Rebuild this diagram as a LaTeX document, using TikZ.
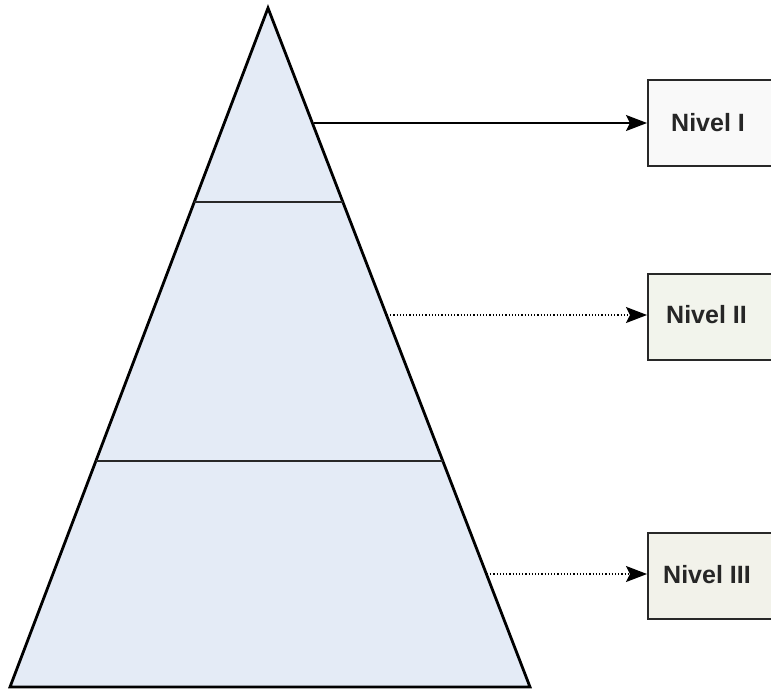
\documentclass[tikz,border=0pt]{standalone}
\usepackage{fontspec}
\setmainfont{Liberation Sans}
\usetikzlibrary{arrows.meta}
\definecolor{pyrfill}{RGB}{228,235,246}
\definecolor{boxone}{RGB}{249,249,249}
\definecolor{boxtwo}{RGB}{242,244,236}
\definecolor{boxthree}{RGB}{242,242,234}
\definecolor{edgegray}{RGB}{40,40,40}
\tikzset{
  levelbox/.style={draw=edgegray, line width=2.2pt, minimum height=86pt, minimum width=150pt, inner sep=0pt},
  leveltext/.style={font=\bfseries\fontsize{25}{29}\selectfont, text=black!85},
  pointer/.style={line width=1.2pt, -{Stealth[length=21pt,width=16pt,inset=4pt]}},
  pyredge/.style={line width=2.8pt, draw=black, line join=miter},
  divider/.style={line width=2.8pt, draw=edgegray}
}
\begin{document}
\begin{tikzpicture}[x=1pt,y=-1pt]
\useasboundingbox (0,0) rectangle (771,689);
\clip (0,0) rectangle (771,689);
% pyramid
\coordinate (apex) at (268,8);
\coordinate (bl) at (10,687);
\coordinate (br) at (530,687);
\fill[pyrfill] (apex) -- (bl) -- (br) -- cycle;
\draw[pyredge] (apex) -- (bl) -- (br) -- cycle;
\coordinate (d1l) at (194,202);
\coordinate (d1r) at (343,202);
\coordinate (d2l) at (96,461);
\coordinate (d2r) at (443,461);
\draw[divider] (d1l) -- (d1r);
\draw[divider] (d2l) -- (d2r);
% boxes
\node[levelbox, fill=boxone, anchor=north west] (b1) at (647,79) {};
\node[levelbox, fill=boxtwo, anchor=north west] (b2) at (647,273) {};
\node[levelbox, fill=boxthree, anchor=north west] (b3) at (647,532) {};
\node[leveltext, anchor=west, inner sep=0pt] (t1) at (671,123) {Nivel I};
\node[leveltext, anchor=west, inner sep=0pt] (t2) at (666,315) {Nivel II};
\node[leveltext, anchor=west, inner sep=0pt] (t3) at (663,575) {Nivel III};
% connectors
\coordinate (s1) at (314,123);
\coordinate (s2) at (387,315);
\coordinate (s3) at (487,574);
\draw[pointer] (s1) -- (b1.west |- s1);
\draw[pointer, dotted] (s2) -- (b2.west |- s2);
\draw[pointer, dotted] (s3) -- (b3.west |- s3);
\end{tikzpicture}
\end{document}
